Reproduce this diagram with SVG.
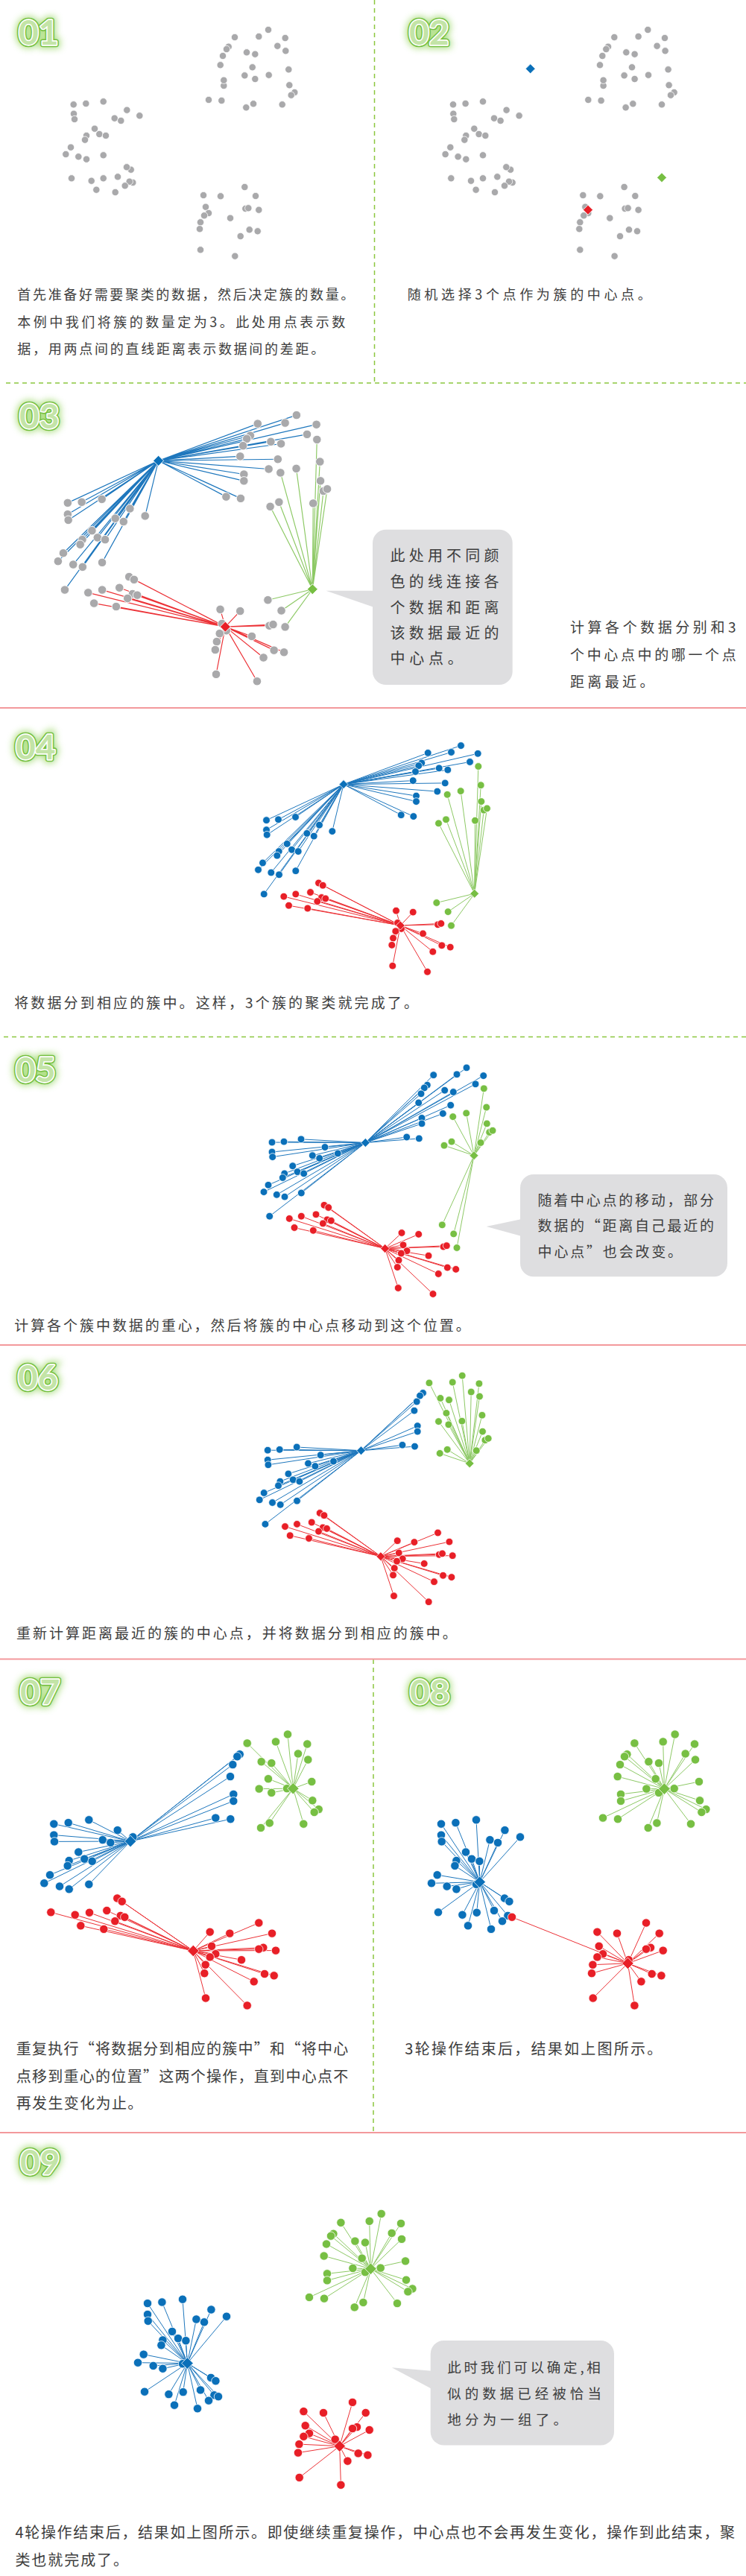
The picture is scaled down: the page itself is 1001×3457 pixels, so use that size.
<svg xmlns="http://www.w3.org/2000/svg" xmlns:xlink="http://www.w3.org/1999/xlink" width="1001" height="3457" viewBox="0 0 1001 3457">
<style>
.t{font-family:"Noto Sans CJK SC","Noto Sans",sans-serif;fill:#3d3d3d}
.f18{font-size:18px}.f19{font-size:19px}.f20{font-size:20px}.f185{font-size:18.5px}
.bd{font-family:Lato,"Open Sans",sans-serif;font-weight:700;font-size:46px}
.g0{fill:#a6dc78;stroke:#a6dc78;stroke-width:10;opacity:.9}
.g1{fill:#74bf3f;stroke:#74bf3f;stroke-width:6.5;stroke-linejoin:round}
.g2{fill:#fff;stroke:#fff;stroke-width:3.4;stroke-linejoin:round}
.g3{fill:#c3e4a7}
.ln{fill:none;stroke-width:1}
.lb{stroke:#1e77bd}.lg{stroke:#8dc965}.lr{stroke:#ec3237}
.sg{fill:none;stroke:#8cc63f;stroke-width:1.5;stroke-dasharray:6 5}
.sr{fill:none;stroke:#f3999c;stroke-width:2}
.bub{fill:#dedee0}
.cb{fill:#0b70b9}.cg{fill:#77bf43}.cr{fill:#e81f27}.cy{fill:#a9a9ab}
</style>
<defs>
<filter id="glow" x="-50%" y="-60%" width="200%" height="220%"><feGaussianBlur stdDeviation="5"/></filter>
<path id="dmA" d="M0 -6.5L6.5 0 0 6.5-6.5 0Z" stroke="#fff" stroke-width="0.8"/>
<path id="dmS" d="M0 -6L6 0 0 6-6 0Z" stroke="#fff" stroke-width="0.8"/>
<path id="dmL" d="M0 -7.8L7.8 0 0 7.8-7.8 0Z" stroke="#fff" stroke-width="0.8"/>
<text id="n01" class="bd" x="25" y="60">01</text>
<text id="n02" class="bd" x="549" y="60">02</text>
<text id="n03" class="bd" x="26" y="575">03</text>
<text id="n04" class="bd" x="21" y="1019">04</text>
<text id="n05" class="bd" x="21" y="1452">05</text>
<text id="n06" class="bd" x="24" y="1865">06</text>
<text id="n07" class="bd" x="27" y="2287">07</text>
<text id="n08" class="bd" x="550" y="2287">08</text>
<text id="n09" class="bd" x="27" y="2918">09</text>
<!-- data A -->
<g id="ptA" stroke="#fff" stroke-width="0.8">
<circle cx="360" cy="40" r="4.7"/><circle cx="315" cy="50" r="4.7"/><circle cx="347.3" cy="49" r="4.7"/><circle cx="382.7" cy="51" r="4.7"/><circle cx="372.3" cy="61.7" r="4.7"/><circle cx="383.3" cy="68.3" r="4.7"/><circle cx="306.7" cy="62.7" r="4.7"/><circle cx="304" cy="66" r="4.7"/><circle cx="299" cy="75" r="4.7"/><circle cx="331" cy="70.3" r="4.7"/><circle cx="342.3" cy="72.7" r="4.7"/><circle cx="295.7" cy="87.3" r="4.7"/><circle cx="338.7" cy="90.3" r="4.7"/><circle cx="387.3" cy="93.3" r="4.7"/><circle cx="328.3" cy="101.3" r="4.7"/><circle cx="360.7" cy="100.7" r="4.7"/><circle cx="342.3" cy="106" r="4.7"/><circle cx="300.3" cy="115" r="4.7"/><circle cx="300.3" cy="107.7" r="4.7"/><circle cx="388.3" cy="114.3" r="4.7"/><circle cx="395.3" cy="124" r="4.7"/><circle cx="390.7" cy="127.7" r="4.7"/><circle cx="280" cy="134" r="4.7"/><circle cx="297.3" cy="135" r="4.7"/><circle cx="340" cy="139.3" r="4.7"/><circle cx="330.3" cy="144.3" r="4.7"/><circle cx="378.7" cy="140.3" r="4.7"/>
<circle cx="98.7" cy="140.3" r="4.7"/><circle cx="115.3" cy="139" r="4.7"/><circle cx="138.7" cy="136.3" r="4.7"/><circle cx="170.3" cy="147.7" r="4.7"/><circle cx="99" cy="152.7" r="4.7"/><circle cx="100" cy="160" r="4.7"/><circle cx="153.7" cy="158.7" r="4.7"/><circle cx="162.3" cy="162" r="4.7"/><circle cx="187.3" cy="155.3" r="4.7"/><circle cx="127" cy="172.7" r="4.7"/><circle cx="133.3" cy="180" r="4.7"/><circle cx="142" cy="182" r="4.7"/><circle cx="116" cy="182" r="4.7"/><circle cx="114" cy="187.7" r="4.7"/><circle cx="95" cy="197.7" r="4.7"/><circle cx="88.3" cy="207" r="4.7"/><circle cx="105.3" cy="210.3" r="4.7"/><circle cx="116" cy="213.7" r="4.7"/><circle cx="138.7" cy="208.3" r="4.7"/><circle cx="175.7" cy="227.7" r="4.7"/><circle cx="170" cy="224.3" r="4.7"/><circle cx="96" cy="239.3" r="4.7"/><circle cx="122.7" cy="242.7" r="4.7"/><circle cx="138.7" cy="239.3" r="4.7"/><circle cx="158" cy="237.3" r="4.7"/><circle cx="178.3" cy="245" r="4.7"/><circle cx="173.7" cy="243.7" r="4.7"/><circle cx="167.7" cy="249.3" r="4.7"/><circle cx="129.3" cy="254.7" r="4.7"/><circle cx="154.7" cy="258" r="4.7"/>
<circle cx="328.3" cy="251" r="4.7"/><circle cx="273" cy="262" r="4.7"/><circle cx="296" cy="263.3" r="4.7"/><circle cx="343" cy="263" r="4.7"/><circle cx="276" cy="277.7" r="4.7"/><circle cx="329.3" cy="280" r="4.7"/><circle cx="333.3" cy="279.3" r="4.7"/><circle cx="347.3" cy="281.7" r="4.7"/><circle cx="280" cy="286" r="4.7"/><circle cx="274" cy="289.3" r="4.7"/><circle cx="309" cy="292.7" r="4.7"/><circle cx="269" cy="298.3" r="4.7"/><circle cx="268" cy="307.3" r="4.7"/><circle cx="334.7" cy="308.3" r="4.7"/><circle cx="345.7" cy="310.3" r="4.7"/><circle cx="322.7" cy="317" r="4.7"/><circle cx="269" cy="335.3" r="4.7"/><circle cx="315.3" cy="343.7" r="4.7"/>
</g>
<!-- data B -->
<g id="bTB" stroke="#fff" stroke-width="0.8"><circle cx="573.3" cy="1456.2" r="4.9"/><circle cx="569.3" cy="1459.9" r="4.9"/><circle cx="565" cy="1467.8" r="4.9"/><circle cx="561.7" cy="1479.9" r="4.9"/><circle cx="566" cy="1500.4" r="4.9"/><circle cx="566" cy="1507.9" r="4.9"/><circle cx="545.7" cy="1526" r="4.9"/><circle cx="562.3" cy="1527.9" r="4.9"/></g>
<g id="bTG" stroke="#fff" stroke-width="0.8"><circle cx="626" cy="1432.9" r="4.9"/><circle cx="613" cy="1441.8" r="4.9"/><circle cx="648.7" cy="1443.6" r="4.9"/><circle cx="638" cy="1454.8" r="4.9"/><circle cx="581.7" cy="1442.7" r="4.9"/><circle cx="596.7" cy="1463.2" r="4.9"/><circle cx="608.3" cy="1465.5" r="4.9"/><circle cx="604.7" cy="1483.2" r="4.9"/><circle cx="594.3" cy="1494.4" r="4.9"/></g>
<g id="bL" stroke="#fff" stroke-width="0.8"><circle cx="365" cy="1533" r="4.9"/><circle cx="381" cy="1532.1" r="4.9"/><circle cx="404" cy="1528.8" r="4.9"/><circle cx="436" cy="1539.5" r="4.9"/><circle cx="365" cy="1546" r="4.9"/><circle cx="365.7" cy="1552.6" r="4.9"/><circle cx="419.3" cy="1550.7" r="4.9"/><circle cx="428.7" cy="1554.4" r="4.9"/><circle cx="453.3" cy="1547.9" r="4.9"/><circle cx="392.7" cy="1564.7" r="4.9"/><circle cx="381.7" cy="1574.9" r="4.9"/><circle cx="399" cy="1572.6" r="4.9"/><circle cx="407.7" cy="1574.9" r="4.9"/><circle cx="379.3" cy="1580.5" r="4.9"/><circle cx="360" cy="1590.3" r="4.9"/><circle cx="354" cy="1599.6" r="4.9"/><circle cx="371.3" cy="1603.3" r="4.9"/><circle cx="382" cy="1606.1" r="4.9"/><circle cx="404.3" cy="1601" r="4.9"/><circle cx="361.7" cy="1632.2" r="4.9"/></g>
<g id="bG" stroke="#fff" stroke-width="0.8"><circle cx="649.3" cy="1460.8" r="4.9"/><circle cx="652.7" cy="1486" r="4.9"/><circle cx="607.7" cy="1498.6" r="4.9"/><circle cx="625.7" cy="1493.9" r="4.9"/><circle cx="653.3" cy="1507.9" r="4.9"/><circle cx="656.7" cy="1519.5" r="4.9"/><circle cx="661" cy="1517.2" r="4.9"/><circle cx="645" cy="1533.5" r="4.9"/><circle cx="606" cy="1532.1" r="4.9"/><circle cx="596" cy="1537.2" r="4.9"/></g>
<g id="bGb" stroke="#fff" stroke-width="0.8"><circle cx="593.3" cy="1643.8" r="4.9"/><circle cx="608.7" cy="1655.9" r="4.9"/><circle cx="613" cy="1674.5" r="4.9"/></g>
<g id="bR" stroke="#fff" stroke-width="0.8"><circle cx="435" cy="1617.3" r="4.9"/><circle cx="440.7" cy="1620.5" r="4.9"/><circle cx="388.3" cy="1635.4" r="4.9"/><circle cx="404.3" cy="1632.2" r="4.9"/><circle cx="424" cy="1629.8" r="4.9"/><circle cx="439" cy="1636.8" r="4.9"/><circle cx="444.3" cy="1638.2" r="4.9"/><circle cx="433.3" cy="1641.9" r="4.9"/><circle cx="395" cy="1647.5" r="4.9"/><circle cx="420.3" cy="1651.3" r="4.9"/><circle cx="539" cy="1654.5" r="4.9"/><circle cx="561.7" cy="1656.4" r="4.9"/><circle cx="541" cy="1670.8" r="4.9"/><circle cx="595" cy="1673.1" r="4.9"/><circle cx="599.3" cy="1671.7" r="4.9"/><circle cx="546" cy="1678.7" r="4.9"/><circle cx="538.3" cy="1682" r="4.9"/><circle cx="575" cy="1685.2" r="4.9"/><circle cx="535" cy="1691.3" r="4.9"/><circle cx="533.3" cy="1700.6" r="4.9"/><circle cx="588.3" cy="1709.5" r="4.9"/><circle cx="600.3" cy="1701.1" r="4.9"/><circle cx="611.7" cy="1703.4" r="4.9"/><circle cx="534.3" cy="1728.5" r="4.9"/><circle cx="581" cy="1736.5" r="4.9"/></g>
<!-- lines B -->
<g id="LB1">
<path class="ln lb" d="M626 1432.9L468.5 1484.9M613 1441.8L468.5 1484.9M648.7 1443.6L468.5 1484.9M638 1454.8L468.5 1484.9M581.7 1442.7L468.5 1484.9M596.7 1463.2L468.5 1484.9M608.3 1465.5L468.5 1484.9M604.7 1483.2L468.5 1484.9M594.3 1494.4L468.5 1484.9M573.3 1456.2L468.5 1484.9M569.3 1459.9L468.5 1484.9M565 1467.8L468.5 1484.9M561.7 1479.9L468.5 1484.9M566 1500.4L468.5 1484.9M566 1507.9L468.5 1484.9M545.7 1526L468.5 1484.9M562.3 1527.9L468.5 1484.9M365 1533L468.5 1484.9M381 1532.1L468.5 1484.9M404 1528.8L468.5 1484.9M436 1539.5L468.5 1484.9M365 1546L468.5 1484.9M365.7 1552.6L468.5 1484.9M419.3 1550.7L468.5 1484.9M428.7 1554.4L468.5 1484.9M453.3 1547.9L468.5 1484.9M392.7 1564.7L468.5 1484.9M381.7 1574.9L468.5 1484.9M399 1572.6L468.5 1484.9M407.7 1574.9L468.5 1484.9M379.3 1580.5L468.5 1484.9M360 1590.3L468.5 1484.9M354 1599.6L468.5 1484.9M371.3 1603.3L468.5 1484.9M382 1606.1L468.5 1484.9M404.3 1601L468.5 1484.9M361.7 1632.2L468.5 1484.9"/>
<path class="ln lg" d="M649.3 1460.8L644.2 1631.5M652.7 1486L644.2 1631.5M607.7 1498.6L644.2 1631.5M625.7 1493.9L644.2 1631.5M653.3 1507.9L644.2 1631.5M656.7 1519.5L644.2 1631.5M661 1517.2L644.2 1631.5M645 1533.5L644.2 1631.5M606 1532.1L644.2 1631.5M596 1537.2L644.2 1631.5M593.3 1643.8L644.2 1631.5M608.7 1655.9L644.2 1631.5M613 1674.5L644.2 1631.5"/>
<path class="ln lr" d="M435 1617.3L544.8 1674.3M440.7 1620.5L544.8 1674.3M388.3 1635.4L544.8 1674.3M404.3 1632.2L544.8 1674.3M424 1629.8L544.8 1674.3M439 1636.8L544.8 1674.3M444.3 1638.2L544.8 1674.3M433.3 1641.9L544.8 1674.3M395 1647.5L544.8 1674.3M420.3 1651.3L544.8 1674.3M539 1654.5L544.8 1674.3M561.7 1656.4L544.8 1674.3M541 1670.8L544.8 1674.3M595 1673.1L544.8 1674.3M599.3 1671.7L544.8 1674.3M546 1678.7L544.8 1674.3M538.3 1682L544.8 1674.3M575 1685.2L544.8 1674.3M535 1691.3L544.8 1674.3M533.3 1700.6L544.8 1674.3M588.3 1709.5L544.8 1674.3M600.3 1701.1L544.8 1674.3M611.7 1703.4L544.8 1674.3M534.3 1728.5L544.8 1674.3M581 1736.5L544.8 1674.3"/>
</g>
<g id="LB2">
<path class="ln lb" d="M626 1432.9L490.3 1533.5M613 1441.8L490.3 1533.5M648.7 1443.6L490.3 1533.5M638 1454.8L490.3 1533.5M581.7 1442.7L490.3 1533.5M596.7 1463.2L490.3 1533.5M608.3 1465.5L490.3 1533.5M604.7 1483.2L490.3 1533.5M594.3 1494.4L490.3 1533.5M573.3 1456.2L490.3 1533.5M569.3 1459.9L490.3 1533.5M565 1467.8L490.3 1533.5M561.7 1479.9L490.3 1533.5M566 1500.4L490.3 1533.5M566 1507.9L490.3 1533.5M545.7 1526L490.3 1533.5M562.3 1527.9L490.3 1533.5M365 1533L490.3 1533.5M381 1532.1L490.3 1533.5M404 1528.8L490.3 1533.5M436 1539.5L490.3 1533.5M365 1546L490.3 1533.5M365.7 1552.6L490.3 1533.5M419.3 1550.7L490.3 1533.5M428.7 1554.4L490.3 1533.5M453.3 1547.9L490.3 1533.5M392.7 1564.7L490.3 1533.5M381.7 1574.9L490.3 1533.5M399 1572.6L490.3 1533.5M407.7 1574.9L490.3 1533.5M379.3 1580.5L490.3 1533.5M360 1590.3L490.3 1533.5M354 1599.6L490.3 1533.5M371.3 1603.3L490.3 1533.5M382 1606.1L490.3 1533.5M404.3 1601L490.3 1533.5M361.7 1632.2L490.3 1533.5"/>
<path class="ln lg" d="M649.3 1460.8L636 1550.7M652.7 1486L636 1550.7M607.7 1498.6L636 1550.7M625.7 1493.9L636 1550.7M653.3 1507.9L636 1550.7M656.7 1519.5L636 1550.7M661 1517.2L636 1550.7M645 1533.5L636 1550.7M606 1532.1L636 1550.7M596 1537.2L636 1550.7M593.3 1643.8L636 1550.7M608.7 1655.9L636 1550.7M613 1674.5L636 1550.7"/>
<path class="ln lr" d="M435 1617.3L516.7 1675.5M440.7 1620.5L516.7 1675.5M388.3 1635.4L516.7 1675.5M404.3 1632.2L516.7 1675.5M424 1629.8L516.7 1675.5M439 1636.8L516.7 1675.5M444.3 1638.2L516.7 1675.5M433.3 1641.9L516.7 1675.5M395 1647.5L516.7 1675.5M420.3 1651.3L516.7 1675.5M539 1654.5L516.7 1675.5M561.7 1656.4L516.7 1675.5M541 1670.8L516.7 1675.5M595 1673.1L516.7 1675.5M599.3 1671.7L516.7 1675.5M546 1678.7L516.7 1675.5M538.3 1682L516.7 1675.5M575 1685.2L516.7 1675.5M535 1691.3L516.7 1675.5M533.3 1700.6L516.7 1675.5M588.3 1709.5L516.7 1675.5M600.3 1701.1L516.7 1675.5M611.7 1703.4L516.7 1675.5M534.3 1728.5L516.7 1675.5M581 1736.5L516.7 1675.5"/>
</g>
<g id="LB3">
<path class="ln lb" d="M573.3 1456.2L490.3 1533.5M569.3 1459.9L490.3 1533.5M565 1467.8L490.3 1533.5M561.7 1479.9L490.3 1533.5M566 1500.4L490.3 1533.5M566 1507.9L490.3 1533.5M545.7 1526L490.3 1533.5M562.3 1527.9L490.3 1533.5M365 1533L490.3 1533.5M381 1532.1L490.3 1533.5M404 1528.8L490.3 1533.5M436 1539.5L490.3 1533.5M365 1546L490.3 1533.5M365.7 1552.6L490.3 1533.5M419.3 1550.7L490.3 1533.5M428.7 1554.4L490.3 1533.5M453.3 1547.9L490.3 1533.5M392.7 1564.7L490.3 1533.5M381.7 1574.9L490.3 1533.5M399 1572.6L490.3 1533.5M407.7 1574.9L490.3 1533.5M379.3 1580.5L490.3 1533.5M360 1590.3L490.3 1533.5M354 1599.6L490.3 1533.5M371.3 1603.3L490.3 1533.5M382 1606.1L490.3 1533.5M404.3 1601L490.3 1533.5M361.7 1632.2L490.3 1533.5"/>
<path class="ln lg" d="M626 1432.9L636 1550.7M613 1441.8L636 1550.7M648.7 1443.6L636 1550.7M638 1454.8L636 1550.7M581.7 1442.7L636 1550.7M596.7 1463.2L636 1550.7M608.3 1465.5L636 1550.7M604.7 1483.2L636 1550.7M594.3 1494.4L636 1550.7M649.3 1460.8L636 1550.7M652.7 1486L636 1550.7M607.7 1498.6L636 1550.7M625.7 1493.9L636 1550.7M653.3 1507.9L636 1550.7M656.7 1519.5L636 1550.7M661 1517.2L636 1550.7M645 1533.5L636 1550.7M606 1532.1L636 1550.7M596 1537.2L636 1550.7"/>
<path class="ln lr" d="M593.3 1643.8L516.7 1675.5M608.7 1655.9L516.7 1675.5M613 1674.5L516.7 1675.5M435 1617.3L516.7 1675.5M440.7 1620.5L516.7 1675.5M388.3 1635.4L516.7 1675.5M404.3 1632.2L516.7 1675.5M424 1629.8L516.7 1675.5M439 1636.8L516.7 1675.5M444.3 1638.2L516.7 1675.5M433.3 1641.9L516.7 1675.5M395 1647.5L516.7 1675.5M420.3 1651.3L516.7 1675.5M539 1654.5L516.7 1675.5M561.7 1656.4L516.7 1675.5M541 1670.8L516.7 1675.5M595 1673.1L516.7 1675.5M599.3 1671.7L516.7 1675.5M546 1678.7L516.7 1675.5M538.3 1682L516.7 1675.5M575 1685.2L516.7 1675.5M535 1691.3L516.7 1675.5M533.3 1700.6L516.7 1675.5M588.3 1709.5L516.7 1675.5M600.3 1701.1L516.7 1675.5M611.7 1703.4L516.7 1675.5M534.3 1728.5L516.7 1675.5M581 1736.5L516.7 1675.5"/>
</g>
<!-- data C -->
<g id="cK" stroke="#fff" stroke-width="0.8"><circle cx="72.3" cy="2447.7" r="5.7"/><circle cx="91.7" cy="2446.1" r="5.7"/><circle cx="119.3" cy="2442.3" r="5.7"/><circle cx="157.7" cy="2456.1" r="5.7"/><circle cx="72.3" cy="2462.6" r="5.7"/><circle cx="73" cy="2471.4" r="5.7"/><circle cx="137.7" cy="2469.1" r="5.7"/><circle cx="148.3" cy="2472.9" r="5.7"/><circle cx="178.3" cy="2465.3" r="5.7"/><circle cx="105.3" cy="2485.5" r="5.7"/><circle cx="92.7" cy="2497" r="5.7"/><circle cx="113.3" cy="2494.7" r="5.7"/><circle cx="123.7" cy="2497.8" r="5.7"/><circle cx="90.7" cy="2503.9" r="5.7"/><circle cx="67" cy="2516.2" r="5.7"/><circle cx="59.3" cy="2527.3" r="5.7"/><circle cx="80" cy="2531.5" r="5.7"/><circle cx="92.7" cy="2535.3" r="5.7"/><circle cx="119.3" cy="2528.8" r="5.7"/></g>
<g id="cH" stroke="#fff" stroke-width="0.8"><circle cx="321.7" cy="2354.3" r="5.7"/><circle cx="318.3" cy="2357.3" r="5.7"/><circle cx="312.3" cy="2368.1" r="5.7"/><circle cx="309" cy="2384.1" r="5.7"/><circle cx="313.3" cy="2407.9" r="5.7"/><circle cx="313.3" cy="2417" r="5.7"/><circle cx="289.3" cy="2439.6" r="5.7"/><circle cx="309.3" cy="2441.2" r="5.7"/></g>
<g id="cG" stroke="#fff" stroke-width="0.8"><circle cx="331.7" cy="2339.4" r="5.7"/><circle cx="370" cy="2337.4" r="5.7"/><circle cx="386" cy="2327.5" r="5.7"/><circle cx="412.3" cy="2340.5" r="5.7"/><circle cx="400" cy="2353.5" r="5.7"/><circle cx="413.3" cy="2361.5" r="5.7"/><circle cx="350.7" cy="2364.2" r="5.7"/><circle cx="364.3" cy="2366.1" r="5.7"/><circle cx="360" cy="2387.2" r="5.7"/><circle cx="347.7" cy="2400.6" r="5.7"/><circle cx="364.3" cy="2405.9" r="5.7"/><circle cx="418.3" cy="2391" r="5.7"/><circle cx="419.3" cy="2416.3" r="5.7"/><circle cx="427.7" cy="2428.1" r="5.7"/><circle cx="421.7" cy="2432" r="5.7"/><circle cx="350" cy="2453" r="5.7"/><circle cx="361.7" cy="2446.5" r="5.7"/><circle cx="407.3" cy="2447.7" r="5.7"/><circle cx="385" cy="2400.2" r="5.7"/></g>
<g id="cQa" stroke="#fff" stroke-width="0.8"><circle cx="157.3" cy="2547.5" r="5.7"/><circle cx="163.7" cy="2551.8" r="5.7"/><circle cx="68.3" cy="2566.3" r="5.7"/><circle cx="100.7" cy="2569.7" r="5.7"/><circle cx="120" cy="2566.7" r="5.7"/><circle cx="143.3" cy="2564" r="5.7"/><circle cx="161.7" cy="2570.9" r="5.7"/><circle cx="154.3" cy="2578.2" r="5.7"/><circle cx="108.3" cy="2584.3" r="5.7"/><circle cx="139.3" cy="2588.9" r="5.7"/></g>
<g id="cQ8" stroke="#fff" stroke-width="0.8"><circle cx="167.3" cy="2572.8" r="5.7"/></g>
<g id="cS" stroke="#fff" stroke-width="0.8"><circle cx="281.7" cy="2592.7" r="5.7"/><circle cx="308.3" cy="2594.6" r="5.7"/><circle cx="347.3" cy="2580.5" r="5.7"/><circle cx="365" cy="2594.6" r="5.7"/><circle cx="284" cy="2611.8" r="5.7"/><circle cx="353.3" cy="2613.7" r="5.7"/><circle cx="347.3" cy="2615.7" r="5.7"/><circle cx="370" cy="2617.6" r="5.7"/><circle cx="289.3" cy="2622.2" r="5.7"/><circle cx="281.7" cy="2626.4" r="5.7"/><circle cx="324" cy="2630.2" r="5.7"/><circle cx="275.7" cy="2636.7" r="5.7"/><circle cx="274.3" cy="2648.2" r="5.7"/><circle cx="355" cy="2649" r="5.7"/><circle cx="367.7" cy="2651.3" r="5.7"/><circle cx="340.7" cy="2659.3" r="5.7"/><circle cx="276" cy="2681.5" r="5.7"/><circle cx="331.7" cy="2691.4" r="5.7"/></g>
</defs>

<rect width="1001" height="3457" fill="#fff"/>

<g id="separators">
<path class="sg" d="M502.5 0V514M8 514H1001M5 1391.5H1001M501 2227V2862"/>
<path class="sr" d="M0 950H1001M0 1805H1001M0 2226.5H1001M0 2862H1001"/>
</g>

<g id="badges">
<use href="#n01" class="g0" filter="url(#glow)"/><use href="#n01" class="g1"/><use href="#n01" class="g2"/><use href="#n01" class="g3"/>
<use href="#n02" class="g0" filter="url(#glow)"/><use href="#n02" class="g1"/><use href="#n02" class="g2"/><use href="#n02" class="g3"/>
<use href="#n03" class="g0" filter="url(#glow)"/><use href="#n03" class="g1"/><use href="#n03" class="g2"/><use href="#n03" class="g3"/>
<use href="#n04" class="g0" filter="url(#glow)"/><use href="#n04" class="g1"/><use href="#n04" class="g2"/><use href="#n04" class="g3"/>
<use href="#n05" class="g0" filter="url(#glow)"/><use href="#n05" class="g1"/><use href="#n05" class="g2"/><use href="#n05" class="g3"/>
<use href="#n06" class="g0" filter="url(#glow)"/><use href="#n06" class="g1"/><use href="#n06" class="g2"/><use href="#n06" class="g3"/>
<use href="#n07" class="g0" filter="url(#glow)"/><use href="#n07" class="g1"/><use href="#n07" class="g2"/><use href="#n07" class="g3"/>
<use href="#n08" class="g0" filter="url(#glow)"/><use href="#n08" class="g1"/><use href="#n08" class="g2"/><use href="#n08" class="g3"/>
<use href="#n09" class="g0" filter="url(#glow)"/><use href="#n09" class="g1"/><use href="#n09" class="g2"/><use href="#n09" class="g3"/>
</g>

<!-- Panel 01 -->
<g id="panel01">
<use href="#ptA" class="cy"/>
<text class="t f18" x="23.3" y="401.8" textLength="452" lengthAdjust="spacing">首先准备好需要聚类的数据，然后决定簇的数量。</text>
<text class="t f18" x="23.3" y="439.1" textLength="440" lengthAdjust="spacing">本例中我们将簇的数量定为3。此处用点表示数</text>
<text class="t f18" x="23.3" y="475.1" textLength="412" lengthAdjust="spacing">据，用两点间的直线距离表示数据间的差距。</text>
</g>

<!-- Panel 02 -->
<g id="panel02">
<use href="#ptA" class="cy" transform="translate(509.3 0)"/>
<g id="p02-centers">
<use href="#dmA" x="711.7" y="92.3" class="cb"/>
<use href="#dmA" x="888" y="238.3" class="cg"/>
<use href="#dmA" x="789" y="281.7" class="cr"/>
</g>
<text class="t f18" x="546.7" y="401.8" textLength="327" lengthAdjust="spacing">随机选择3个点作为簇的中心点。</text>
</g>

<!-- Panel 03 -->
<g id="panel03">
<g transform="translate(-338.6 -1128.7) scale(1.1765)">
<use href="#LB1"/>
<use href="#bTB" class="cy"/><use href="#bTG" class="cy"/><use href="#bL" class="cy"/><use href="#bG" class="cy"/><use href="#bGb" class="cy"/><use href="#bR" class="cy"/>
<use href="#dmS" x="468.5" y="1484.9" class="cb"/><use href="#dmS" x="644.2" y="1631.5" class="cg"/><use href="#dmS" x="544.8" y="1674.3" class="cr"/>
</g>
<g id="bubble03">
<rect class="bub" x="500" y="710.7" width="187.7" height="208.3" rx="18"/>
<path class="bub" d="M437.4 792.7L502 792.7 502 815Z"/>
<text class="t f20" x="523.6" y="753.4" textLength="145.8" lengthAdjust="spacing">此处用不同颜</text>
<text class="t f20" x="523.6" y="788.4" textLength="145.8" lengthAdjust="spacing">色的线连接各</text>
<text class="t f20" x="523.6" y="822.6" textLength="145.8" lengthAdjust="spacing">个数据和距离</text>
<text class="t f20" x="523.6" y="857.4" textLength="145.8" lengthAdjust="spacing">该数据最近的</text>
<text class="t f20" x="523.6" y="891.4" textLength="97.2" lengthAdjust="spacing">中心点。</text>
</g>
<text class="t f19" x="765" y="848.9" textLength="222.5" lengthAdjust="spacing">计算各个数据分别和3</text>
<text class="t f19" x="765" y="885.5" textLength="222.7" lengthAdjust="spacing">个中心点中的哪一个点</text>
<text class="t f19" x="765" y="922.2" textLength="112.5" lengthAdjust="spacing">距离最近。</text>
</g>

<!-- Panel 04 -->
<g id="panel04">
<g transform="translate(-7.5 -432.3)">
<use href="#LB1"/>
<use href="#bTB" class="cb"/><use href="#bTG" class="cb"/><use href="#bL" class="cb"/><use href="#bG" class="cg"/><use href="#bGb" class="cg"/><use href="#bR" class="cr"/>
<use href="#dmS" x="468.5" y="1484.9" class="cb"/><use href="#dmS" x="644.2" y="1631.5" class="cg"/><use href="#dmS" x="544.8" y="1674.3" class="cr"/>
</g>
<text class="t f19" x="19.2" y="1352.8" textLength="541.8" lengthAdjust="spacing">将数据分到相应的簇中。这样，3个簇的聚类就完成了。</text>
</g>

<!-- Panel 05 -->
<g id="panel05">
<use href="#LB2"/>
<use href="#bTB" class="cb"/><use href="#bTG" class="cb"/><use href="#bL" class="cb"/><use href="#bG" class="cg"/><use href="#bGb" class="cg"/><use href="#bR" class="cr"/>
<use href="#dmS" x="490.3" y="1533.5" class="cb"/><use href="#dmS" x="636" y="1550.7" class="cg"/><use href="#dmS" x="516.7" y="1675.5" class="cr"/>
<g id="bubble05">
<rect class="bub" x="698" y="1576" width="278" height="137.3" rx="18"/>
<path class="bub" d="M652.6 1646L700 1636 700 1659Z"/>
<text class="t f19" x="721.6" y="1618" textLength="236.5" lengthAdjust="spacing">随着中心点的移动，部分</text>
<text class="t f19" x="721.6" y="1652.2" textLength="236.5" lengthAdjust="spacing">数据的“距离自己最近的</text>
<text class="t f19" x="721.6" y="1686.5" textLength="193.5" lengthAdjust="spacing">中心点”也会改变。</text>
</g>
<text class="t f19" x="19.2" y="1786.2" textLength="611.6" lengthAdjust="spacing">计算各个簇中数据的重心，然后将簇的中心点移动到这个位置。</text>
</g>

<!-- Panel 06 -->
<g id="panel06">
<g transform="translate(-5.8 413.2)">
<use href="#LB3"/>
<use href="#bTB" class="cb"/><use href="#bL" class="cb"/><use href="#bTG" class="cg"/><use href="#bG" class="cg"/><use href="#bGb" class="cr"/><use href="#bR" class="cr"/>
<use href="#dmS" x="490.3" y="1533.5" class="cb"/><use href="#dmS" x="636" y="1550.7" class="cg"/><use href="#dmS" x="516.7" y="1675.5" class="cr"/>
</g>
<text class="t f19" x="22" y="2198.9" textLength="590.7" lengthAdjust="spacing">重新计算距离最近的簇的中心点，并将数据分到相应的簇中。</text>
</g>

<!-- Panel 07 -->
<g id="panel07">
<g id="LC1">
<path class="ln lb" d="M72.3 2447.7L175 2471M91.7 2446.1L175 2471M119.3 2442.3L175 2471M157.7 2456.1L175 2471M72.3 2462.6L175 2471M73 2471.4L175 2471M137.7 2469.1L175 2471M148.3 2472.9L175 2471M178.3 2465.3L175 2471M105.3 2485.5L175 2471M92.7 2497L175 2471M113.3 2494.7L175 2471M123.7 2497.8L175 2471M90.7 2503.9L175 2471M67 2516.2L175 2471M59.3 2527.3L175 2471M80 2531.5L175 2471M92.7 2535.3L175 2471M119.3 2528.8L175 2471M321.7 2354.3L175 2471M318.3 2357.3L175 2471M312.3 2368.1L175 2471M309 2384.1L175 2471M313.3 2407.9L175 2471M313.3 2417L175 2471M289.3 2439.6L175 2471M309.3 2441.2L175 2471"/>
<path class="ln lg" d="M331.7 2339.4L393.3 2400.2M370 2337.4L393.3 2400.2M386 2327.5L393.3 2400.2M412.3 2340.5L393.3 2400.2M400 2353.5L393.3 2400.2M413.3 2361.5L393.3 2400.2M350.7 2364.2L393.3 2400.2M364.3 2366.1L393.3 2400.2M360 2387.2L393.3 2400.2M347.7 2400.6L393.3 2400.2M364.3 2405.9L393.3 2400.2M418.3 2391L393.3 2400.2M419.3 2416.3L393.3 2400.2M427.7 2428.1L393.3 2400.2M421.7 2432L393.3 2400.2M350 2453L393.3 2400.2M361.7 2446.5L393.3 2400.2M407.3 2447.7L393.3 2400.2M385 2400.2L393.3 2400.2"/>
<path class="ln lr" d="M157.3 2547.5L259.3 2618M163.7 2551.8L259.3 2618M68.3 2566.3L259.3 2618M100.7 2569.7L259.3 2618M120 2566.7L259.3 2618M143.3 2564L259.3 2618M161.7 2570.9L259.3 2618M167.3 2572.8L259.3 2618M154.3 2578.2L259.3 2618M108.3 2584.3L259.3 2618M139.3 2588.9L259.3 2618M281.7 2592.7L259.3 2618M308.3 2594.6L259.3 2618M347.3 2580.5L259.3 2618M365 2594.6L259.3 2618M284 2611.8L259.3 2618M353.3 2613.7L259.3 2618M347.3 2615.7L259.3 2618M370 2617.6L259.3 2618M289.3 2622.2L259.3 2618M281.7 2626.4L259.3 2618M324 2630.2L259.3 2618M275.7 2636.7L259.3 2618M274.3 2648.2L259.3 2618M355 2649L259.3 2618M367.7 2651.3L259.3 2618M340.7 2659.3L259.3 2618M276 2681.5L259.3 2618M331.7 2691.4L259.3 2618"/>
</g>
<use href="#cK" class="cb"/><use href="#cH" class="cb"/><use href="#cG" class="cg"/><use href="#cQa" class="cr"/><use href="#cQ8" class="cr"/><use href="#cS" class="cr"/>
<use href="#dmL" x="175" y="2471" class="cb"/><use href="#dmL" x="393.3" y="2400.2" class="cg"/><use href="#dmL" x="259.3" y="2618" class="cr"/>
<text class="t f20" x="21.7" y="2757.2" textLength="445.5" lengthAdjust="spacing">重复执行“将数据分到相应的簇中”和“将中心</text>
<text class="t f20" x="21.7" y="2793.6" textLength="445.5" lengthAdjust="spacing">点移到重心的位置”这两个操作，直到中心点不</text>
<text class="t f20" x="21.7" y="2830" textLength="169.6" lengthAdjust="spacing">再发生变化为止。</text>
</g>

<!-- Panel 08 -->
<g id="panel08">
<g transform="translate(519.7 0)">
<path class="ln lb" d="M72.3 2447.7L124 2525.7M91.7 2446.1L124 2525.7M119.3 2442.3L124 2525.7M157.7 2456.1L124 2525.7M72.3 2462.6L124 2525.7M73 2471.4L124 2525.7M137.7 2469.1L124 2525.7M148.3 2472.9L124 2525.7M178.3 2465.3L124 2525.7M105.3 2485.5L124 2525.7M92.7 2497L124 2525.7M113.3 2494.7L124 2525.7M123.7 2497.8L124 2525.7M90.7 2503.9L124 2525.7M67 2516.2L124 2525.7M59.3 2527.3L124 2525.7M80 2531.5L124 2525.7M92.7 2535.3L124 2525.7M119.3 2528.8L124 2525.7M157.3 2547.5L124 2525.7M163.7 2551.8L124 2525.7M68.3 2566.3L124 2525.7M100.7 2569.7L124 2525.7M120 2566.7L124 2525.7M143.3 2564L124 2525.7M161.7 2570.9L124 2525.7M154.3 2578.2L124 2525.7M108.3 2584.3L124 2525.7M139.3 2588.9L124 2525.7"/>
<path class="ln lg" d="M331.7 2339.4L371.7 2400.6M370 2337.4L371.7 2400.6M386 2327.5L371.7 2400.6M412.3 2340.5L371.7 2400.6M400 2353.5L371.7 2400.6M413.3 2361.5L371.7 2400.6M350.7 2364.2L371.7 2400.6M364.3 2366.1L371.7 2400.6M360 2387.2L371.7 2400.6M347.7 2400.6L371.7 2400.6M364.3 2405.9L371.7 2400.6M418.3 2391L371.7 2400.6M419.3 2416.3L371.7 2400.6M427.7 2428.1L371.7 2400.6M421.7 2432L371.7 2400.6M350 2453L371.7 2400.6M361.7 2446.5L371.7 2400.6M407.3 2447.7L371.7 2400.6M385 2400.2L371.7 2400.6M321.7 2354.3L371.7 2400.6M318.3 2357.3L371.7 2400.6M312.3 2368.1L371.7 2400.6M309 2384.1L371.7 2400.6M313.3 2407.9L371.7 2400.6M313.3 2417L371.7 2400.6M289.3 2439.6L371.7 2400.6M309.3 2441.2L371.7 2400.6"/>
<path class="ln lr" d="M167.3 2572.8L322.7 2634.8M281.7 2592.7L322.7 2634.8M308.3 2594.6L322.7 2634.8M347.3 2580.5L322.7 2634.8M365 2594.6L322.7 2634.8M284 2611.8L322.7 2634.8M353.3 2613.7L322.7 2634.8M347.3 2615.7L322.7 2634.8M370 2617.6L322.7 2634.8M289.3 2622.2L322.7 2634.8M281.7 2626.4L322.7 2634.8M324 2630.2L322.7 2634.8M275.7 2636.7L322.7 2634.8M274.3 2648.2L322.7 2634.8M355 2649L322.7 2634.8M367.7 2651.3L322.7 2634.8M340.7 2659.3L322.7 2634.8M276 2681.5L322.7 2634.8M331.7 2691.4L322.7 2634.8"/>
<use href="#cK" class="cb"/><use href="#cQa" class="cb"/><use href="#cH" class="cg"/><use href="#cG" class="cg"/><use href="#cS" class="cr"/><use href="#cQ8" class="cr"/>
<use href="#dmL" x="124" y="2525.7" class="cb"/><use href="#dmL" x="371.7" y="2400.6" class="cg"/><use href="#dmL" x="322.7" y="2634.8" class="cr"/>
</g>
<text class="t f20" x="543.3" y="2757.2" textLength="345" lengthAdjust="spacing">3轮操作结束后，结果如上图所示。</text>
</g>

<!-- Panel 09 -->
<g id="panel09">
<g transform="translate(125.7 643.4)">
<path class="ln lb" d="M72.3 2447.7L125.7 2528.1M91.7 2446.1L125.7 2528.1M119.3 2442.3L125.7 2528.1M157.7 2456.1L125.7 2528.1M72.3 2462.6L125.7 2528.1M73 2471.4L125.7 2528.1M137.7 2469.1L125.7 2528.1M148.3 2472.9L125.7 2528.1M178.3 2465.3L125.7 2528.1M105.3 2485.5L125.7 2528.1M92.7 2497L125.7 2528.1M113.3 2494.7L125.7 2528.1M123.7 2497.8L125.7 2528.1M90.7 2503.9L125.7 2528.1M67 2516.2L125.7 2528.1M59.3 2527.3L125.7 2528.1M80 2531.5L125.7 2528.1M92.7 2535.3L125.7 2528.1M119.3 2528.8L125.7 2528.1M157.3 2547.5L125.7 2528.1M163.7 2551.8L125.7 2528.1M68.3 2566.3L125.7 2528.1M100.7 2569.7L125.7 2528.1M120 2566.7L125.7 2528.1M143.3 2564L125.7 2528.1M161.7 2570.9L125.7 2528.1M167.3 2572.8L125.7 2528.1M154.3 2578.2L125.7 2528.1M108.3 2584.3L125.7 2528.1M139.3 2588.9L125.7 2528.1"/>
<path class="ln lg" d="M331.7 2339.4L371.7 2401.3M370 2337.4L371.7 2401.3M386 2327.5L371.7 2401.3M412.3 2340.5L371.7 2401.3M400 2353.5L371.7 2401.3M413.3 2361.5L371.7 2401.3M350.7 2364.2L371.7 2401.3M364.3 2366.1L371.7 2401.3M360 2387.2L371.7 2401.3M347.7 2400.6L371.7 2401.3M364.3 2405.9L371.7 2401.3M418.3 2391L371.7 2401.3M419.3 2416.3L371.7 2401.3M427.7 2428.1L371.7 2401.3M421.7 2432L371.7 2401.3M350 2453L371.7 2401.3M361.7 2446.5L371.7 2401.3M407.3 2447.7L371.7 2401.3M385 2400.2L371.7 2401.3M321.7 2354.3L371.7 2401.3M318.3 2357.3L371.7 2401.3M312.3 2368.1L371.7 2401.3M309 2384.1L371.7 2401.3M313.3 2407.9L371.7 2401.3M313.3 2417L371.7 2401.3M289.3 2439.6L371.7 2401.3M309.3 2441.2L371.7 2401.3"/>
<path class="ln lr" d="M281.7 2592.7L330 2639.3M308.3 2594.6L330 2639.3M347.3 2580.5L330 2639.3M365 2594.6L330 2639.3M284 2611.8L330 2639.3M353.3 2613.7L330 2639.3M347.3 2615.7L330 2639.3M370 2617.6L330 2639.3M289.3 2622.2L330 2639.3M281.7 2626.4L330 2639.3M324 2630.2L330 2639.3M275.7 2636.7L330 2639.3M274.3 2648.2L330 2639.3M355 2649L330 2639.3M367.7 2651.3L330 2639.3M340.7 2659.3L330 2639.3M276 2681.5L330 2639.3M331.7 2691.4L330 2639.3"/>
<use href="#cK" class="cb"/><use href="#cQa" class="cb"/><use href="#cQ8" class="cb"/><use href="#cH" class="cg"/><use href="#cG" class="cg"/><use href="#cS" class="cr"/>
<use href="#dmL" x="125.7" y="2528.1" class="cb"/><use href="#dmL" x="371.7" y="2401.3" class="cg"/><use href="#dmL" x="330" y="2639.3" class="cr"/>
</g>
<g id="bubble09">
<rect class="bub" x="577.7" y="3141" width="246.3" height="140.5" rx="18"/>
<path class="bub" d="M525.7 3177.2L579 3181.8 579 3205.8Z"/>
<text class="t f185" x="600.3" y="3184.2" textLength="205.5" lengthAdjust="spacing">此时我们可以确定,相</text>
<text class="t f185" x="600.3" y="3219.3" textLength="206.6" lengthAdjust="spacing">似的数据已经被恰当</text>
<text class="t f185" x="600.3" y="3253.5" textLength="160.6" lengthAdjust="spacing">地分为一组了。</text>
</g>
<text class="t f20" x="20.4" y="3406.4" textLength="965.7" lengthAdjust="spacing">4轮操作结束后，结果如上图所示。即使继续重复操作，中心点也不会再发生变化，操作到此结束，聚</text>
<text class="t f20" x="20.4" y="3442.6" textLength="151.6" lengthAdjust="spacing">类也就完成了。</text>
</g>
</svg>
